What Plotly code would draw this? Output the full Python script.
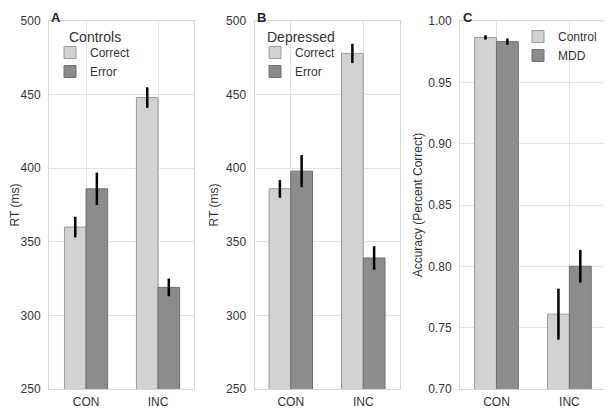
import plotly.graph_objects as go

categories = ["CON", "INC"]

# Panel A: Controls RT (ms)
ctrl_correct = [360, 448]
ctrl_correct_err = [7, 7]
ctrl_error = [386, 319]
ctrl_error_err = [11, 6]

# Panel B: Depressed RT (ms)
dep_correct = [386, 478]
dep_correct_err = [6, 6.5]
dep_error = [398, 339]
dep_error_err = [11, 8]

# Panel C: Accuracy
acc_control = [0.9866, 0.761]
acc_control_err = [0.0018, 0.0208]
acc_mdd = [0.9832, 0.8001]
acc_mdd_err = [0.0026, 0.0133]

rt_ticks = [250, 300, 350, 400, 450, 500]
acc_ticks = [0.70, 0.75, 0.80, 0.85, 0.90, 0.95, 1.00]

LIGHT = "#d2d2d2"
LIGHT_EDGE = "#9a9a9a"
DARK = "#8c8c8c"
DARK_EDGE = "#6e6e6e"
FONT = "Liberation Sans, Arial, sans-serif"
TXT = "#333333"

# page body has an 8px margin: figure occupies screen (8,8)-(612,411)
OFF = 8
W, H = 612 - OFF, 411 - OFF
def px_x(x):
    return (x - OFF) / W
def px_y(y):
    return 1 - (y - OFF) / H

fig = go.Figure()

def bar(name, x, y, err, color, edge, xa, ya, legend, showlegend=True):
    return go.Bar(
        name=name, x=x, y=y,
        error_y=dict(type="data", array=err, color="black", thickness=2.5, width=0),
        marker=dict(color=color, line=dict(color=edge, width=1)),
        xaxis=xa, yaxis=ya, legend=legend, showlegend=showlegend,
        width=0.3,
    )

fig.add_trace(bar("Correct", categories, ctrl_correct, ctrl_correct_err, LIGHT, LIGHT_EDGE, "x", "y", "legend"))
fig.add_trace(bar("Error", categories, ctrl_error, ctrl_error_err, DARK, DARK_EDGE, "x", "y", "legend"))
fig.add_trace(bar("Correct", categories, dep_correct, dep_correct_err, LIGHT, LIGHT_EDGE, "x2", "y2", "legend2"))
fig.add_trace(bar("Error", categories, dep_error, dep_error_err, DARK, DARK_EDGE, "x2", "y2", "legend2"))
fig.add_trace(bar("Control", categories, acc_control, acc_control_err, LIGHT, LIGHT_EDGE, "x3", "y3", "legend3"))
fig.add_trace(bar("MDD", categories, acc_mdd, acc_mdd_err, DARK, DARK_EDGE, "x3", "y3", "legend3"))

y0, y1 = px_y(389), px_y(21)
domains = [(px_x(49), px_x(194)), (px_x(254.5), px_x(399.5)), (px_x(460), px_x(604))]
ranges = [[-0.515, 1.5], [-0.5, 1.5], [-0.5, 1.475]]

grid = "#e2e2e2"
frame = "#d5d5d5"

layout = dict(
    width=W, height=H,
    margin=dict(l=0, r=0, t=0, b=0, autoexpand=False),
    paper_bgcolor="white", plot_bgcolor="white",
    barmode="group", bargap=0.4, bargroupgap=0,
    font=dict(family=FONT, size=12, color=TXT),
)

for i, (dom, rng) in enumerate(zip(domains, ranges)):
    sfx = "" if i == 0 else str(i + 1)
    layout["xaxis" + sfx] = dict(
        domain=list(dom), range=rng, anchor="y" + sfx, automargin=False,
        showgrid=True, gridcolor=grid, gridwidth=1,
        showline=True, linecolor=frame, linewidth=1, mirror=True,
        ticks="", ticklabelstandoff=2, tickfont=dict(size=12, color=TXT), fixedrange=True,
    )
    if i < 2:
        ya = dict(range=[250, 500], tickvals=rt_ticks,
                  title=dict(text="RT (ms)", font=dict(size=12, color=TXT), standoff=4))
    else:
        ya = dict(range=[0.70, 1.00], tickvals=acc_ticks, tickformat=".2f",
                  title=dict(text="Accuracy (Percent Correct)", font=dict(size=12, color=TXT), standoff=3))
    ya.update(domain=[y0, y1], anchor="x" + sfx, automargin=False,
              showgrid=True, gridcolor=grid, gridwidth=1,
              showline=True, linecolor=frame, linewidth=1, mirror=True,
              ticks="", ticklabelstandoff=5, tickfont=dict(size=12, color=TXT), zeroline=False)
    layout["yaxis" + sfx] = ya

leg_common = dict(bgcolor="rgba(0,0,0,0)", font=dict(size=12, color=TXT),
                  tracegroupgap=2, itemwidth=30, yanchor="top")
layout["legend"] = dict(leg_common, x=px_x(50), y=px_y(38), xanchor="left")
layout["legend2"] = dict(leg_common, x=px_x(255), y=px_y(38), xanchor="left")
layout["legend3"] = dict(leg_common, x=px_x(602), y=px_y(22), xanchor="right")

fig.update_layout(**layout)

for title, xp in [("Controls", 67), ("Depressed", 265)]:
    fig.add_annotation(text=title, x=px_x(xp), y=px_y(37), xref="paper", yref="paper",
                       xanchor="left", yanchor="middle", showarrow=False,
                       font=dict(size=14, color=TXT, family=FONT))

for lbl, xp in [("A", 49), ("B", 255), ("C", 461)]:
    fig.add_annotation(text="<b>%s</b>" % lbl, x=px_x(xp), y=1.0, xref="paper", yref="paper",
                       xanchor="left", yanchor="top", showarrow=False,
                       font=dict(size=13, color="#222222", family=FONT))

fig.write_html("out.html")
